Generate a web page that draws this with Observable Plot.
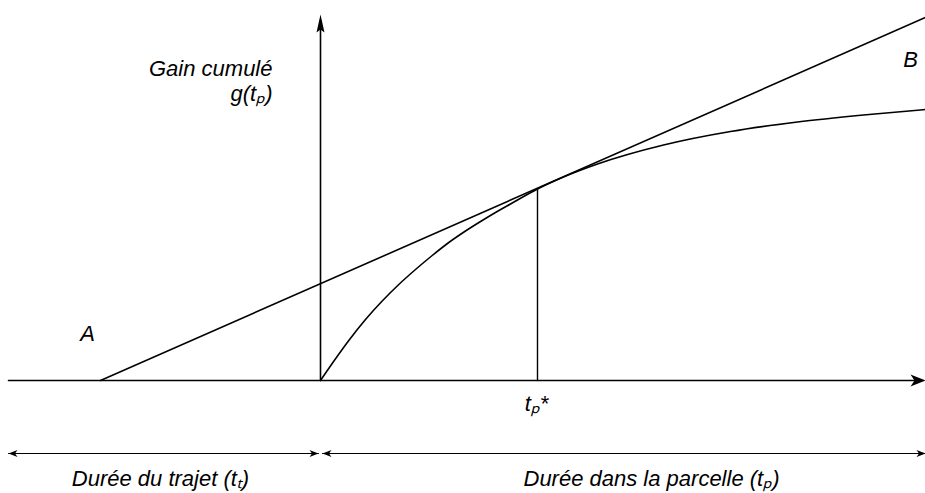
<!DOCTYPE html>
<html><head><meta charset="utf-8">
<script src="https://cdn.jsdelivr.net/npm/d3@7"></script>
<script src="https://cdn.jsdelivr.net/npm/@observablehq/plot@0.6"></script>
<style>html,body{margin:0;padding:0;background:#fff;}</style>
</head><body><div id="chart"></div>
<script>
// Gain curve g(t_p) (time units, gain units)
const curveT = [0, 1.17, 2.83, 4.5, 6.17, 7.83, 9.5, 11.17, 12.83, 14.5, 16.17, 17.5, 19, 21.7, 24.3, 27.7, 34.3, 41, 47.7, 54.3, 60.5];
const curveG = [0, 1.7, 4.0, 6.1, 7.95, 9.6, 11.1, 12.5, 13.8, 14.95, 16.0, 16.8, 17.65, 19.15, 20.35, 21.65, 23.55, 24.9, 25.85, 26.55, 27.1];
// Tangent line from A (travel time -22) through optimum
const tangentT = [-22, 60.5];
const tangentG = [0, 36.3];
// Optimal residence time t_p*
const optT = 21.7;
const optG = 19.15;
// Axes extents
const axisXT = [-31.2, 60];
const axisYG = [0, 36];
const spanG = -7.3;
const travelSpan = [-31.2, -0.2];
const patchSpan = [0.2, 60.5];
// Labels
const labelText = ["Gain cumulé", "g(tₚ)", "A", "B", "tₚ*", "Durée du trajet (tₜ)", "Durée dans la parcelle (tₚ)"];
const labelT = [-4.8, -4.8, -23.3, 59.0, 21.6, -16, 33.1];
const labelG = [30.5, 28.0, 4.0, 31.4, -3.0, -10.5, -10.5];
const labelAnchor = ["end", "end", "middle", "middle", "middle", "middle", "middle"];

const curve = curveT.map((t, i) => ({t, g: curveG[i]}));
const tangent = tangentT.map((t, i) => ({t, g: tangentG[i]}));
const labels = labelText.map((s, i) => ({s, t: labelT[i], g: labelG[i], a: labelAnchor[i]}));

function head(L, hw, notch) {
  return { draw(ctx) { ctx.moveTo(0, 0); ctx.lineTo(-L, -hw); ctx.lineTo(-L + notch, 0); ctx.lineTo(-L, hw); ctx.closePath(); } };
}
const bigHead = head(15, 6, 4);
const upHead = head(18, 4, 3);
const smallHead = head(9, 3.5, 2.5);

const font = "Liberation Sans, Arial, Helvetica, sans-serif";
const textOpts = (anchor) => ({
  x: "t", y: "g", text: "s", fontSize: 22, fontStyle: "italic", fontFamily: font,
  lineAnchor: "bottom", textAnchor: anchor, fill: "black"
});

const chart = Plot.plot({
  width: 925, height: 493,
  marginTop: 0, marginRight: 0, marginBottom: 0, marginLeft: 0,
  x: {domain: [-32, 60.5], axis: null},
  y: {domain: [-11.3, 38], axis: null},
  style: {background: "white"},
  marks: [
    // horizontal axis
    Plot.line(axisXT.map(t => ({t, g: 0})), {x: "t", y: "g", stroke: "black", strokeWidth: 1.6}),
    Plot.dot([{t: axisXT[1] + 0.5, g: 0}], {x: "t", y: "g", symbol: bigHead, fill: "black", stroke: "none", r: 5}),
    // vertical axis
    Plot.line(axisYG.map(g => ({t: 0, g})), {x: "t", y: "g", stroke: "black", strokeWidth: 1.6}),
    Plot.dot([{t: 0, g: 36.6}], {x: "t", y: "g", symbol: upHead, rotate: -90, fill: "black", stroke: "none", r: 5}),
    // tangent line
    Plot.line(tangent, {x: "t", y: "g", stroke: "black", strokeWidth: 1.6}),
    // gain curve
    Plot.line(curve, {x: "t", y: "g", stroke: "black", strokeWidth: 1.6, curve: "monotone-x"}),
    // optimum vertical
    Plot.line([{t: optT, g: 0}, {t: optT, g: optG}], {x: "t", y: "g", stroke: "black", strokeWidth: 1.4}),
    // double arrows
    Plot.line(travelSpan.map(t => ({t, g: spanG})), {x: "t", y: "g", stroke: "black", strokeWidth: 1.1}),
    Plot.line(patchSpan.map(t => ({t, g: spanG})), {x: "t", y: "g", stroke: "black", strokeWidth: 1.1}),
    Plot.dot([{t: travelSpan[0], g: spanG, r: 180}, {t: travelSpan[1], g: spanG, r: 0},
              {t: patchSpan[0], g: spanG, r: 180}, {t: patchSpan[1], g: spanG, r: 0}],
      {x: "t", y: "g", symbol: smallHead, rotate: "r", fill: "black", stroke: "none", r: 5}),
    // labels
    Plot.text(labels.filter(d => d.a === "end"), textOpts("end")),
    Plot.text(labels.filter(d => d.a === "middle"), textOpts("middle"))
  ]
});
document.getElementById("chart").appendChild(chart);
</script>
</body></html>
